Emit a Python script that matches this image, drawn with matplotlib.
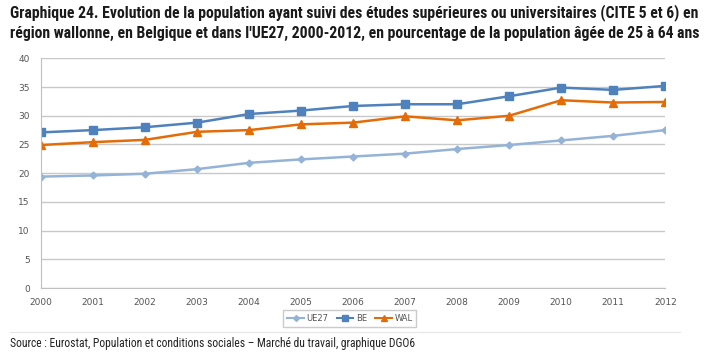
import matplotlib.pyplot as plt
from matplotlib.lines import Line2D

years = list(range(2000, 2013))
ue27 = [19.4, 19.6, 19.9, 20.7, 21.8, 22.4, 22.9, 23.4, 24.2, 24.9, 25.7, 26.5, 27.5]
be = [27.1, 27.5, 28.0, 28.8, 30.3, 30.9, 31.7, 32.0, 32.0, 33.4, 34.9, 34.5, 35.2]
wal = [24.9, 25.4, 25.8, 27.2, 27.5, 28.5, 28.8, 29.9, 29.2, 30.0, 32.7, 32.3, 32.4]
yticks = [0, 5, 10, 15, 20, 25, 30, 35, 40]

title = ("Graphique 24. Evolution de la population ayant suivi des études supérieures ou universitaires (CITE 5 et 6) en\n"
         "région wallonne, en Belgique et dans l'UE27, 2000-2012, en pourcentage de la population âgée de 25 à 64 ans")
source = "Source : Eurostat, Population et conditions sociales – Marché du travail, graphique DGO6"

cond = ["Roboto Condensed", "DejaVu Sans"]

fig = plt.figure(figsize=(7.2, 3.6), dpi=100)
ax = fig.add_axes([0.057, 0.2, 0.867, 0.638])

ax.plot(years, ue27, color="#95b3d7", marker="D", markersize=3.5, linewidth=1.8, label="UE27")
ax.plot(years, be, color="#4f81bd", marker="s", markersize=6, linewidth=1.8, label="BE")
ax.plot(years, wal, color="#e36c09", marker="^", markersize=6, linewidth=1.8, label="WAL")

ax.set_xlim(2000, 2012)
ax.set_ylim(0, 40)
ax.set_yticks(yticks)
ax.set_xticks(years)
ax.grid(axis="y", color="#c8c8c8", linewidth=1)
ax.set_axisbelow(True)
for s in ["top", "right"]:
    ax.spines[s].set_visible(False)
for s in ["left", "bottom"]:
    ax.spines[s].set_color("#bfbfbf")
ax.tick_params(length=0, labelsize=6.5, labelcolor="#555555")
ax.tick_params(axis="x", pad=7)
ax.tick_params(axis="y", pad=8)

handles = [Line2D([], [], color="#95b3d7", marker="D", markersize=3, linewidth=1.5),
           Line2D([], [], color="#4f81bd", marker="s", markersize=4.5, linewidth=1.5),
           Line2D([], [], color="#e36c09", marker="^", markersize=4.5, linewidth=1.5)]
leg = fig.legend(handles, ["UE27", "BE", "WAL"], loc="center", bbox_to_anchor=(0.486, 0.115),
                 ncol=3, fontsize=6, frameon=True, fancybox=False, handlelength=2.0,
                 columnspacing=1.0, handletextpad=0.3, borderpad=0.45)
leg.get_frame().set_edgecolor("#bfbfbf")
for t in leg.get_texts():
    t.set_color("#555555")

fig.text(0.014, 0.99, title, fontsize=11.3, fontweight="bold", family=cond,
         va="top", ha="left", linespacing=1.42, color="#1a1a1a")
fig.add_artist(Line2D([0.014, 0.945], [0.078, 0.078], color="#e6e6e6", linewidth=0.8))
fig.text(0.014, 0.045, source, fontsize=8.4, family=cond, va="center", ha="left", color="#222222")

fig.savefig("out.png", dpi=100)
